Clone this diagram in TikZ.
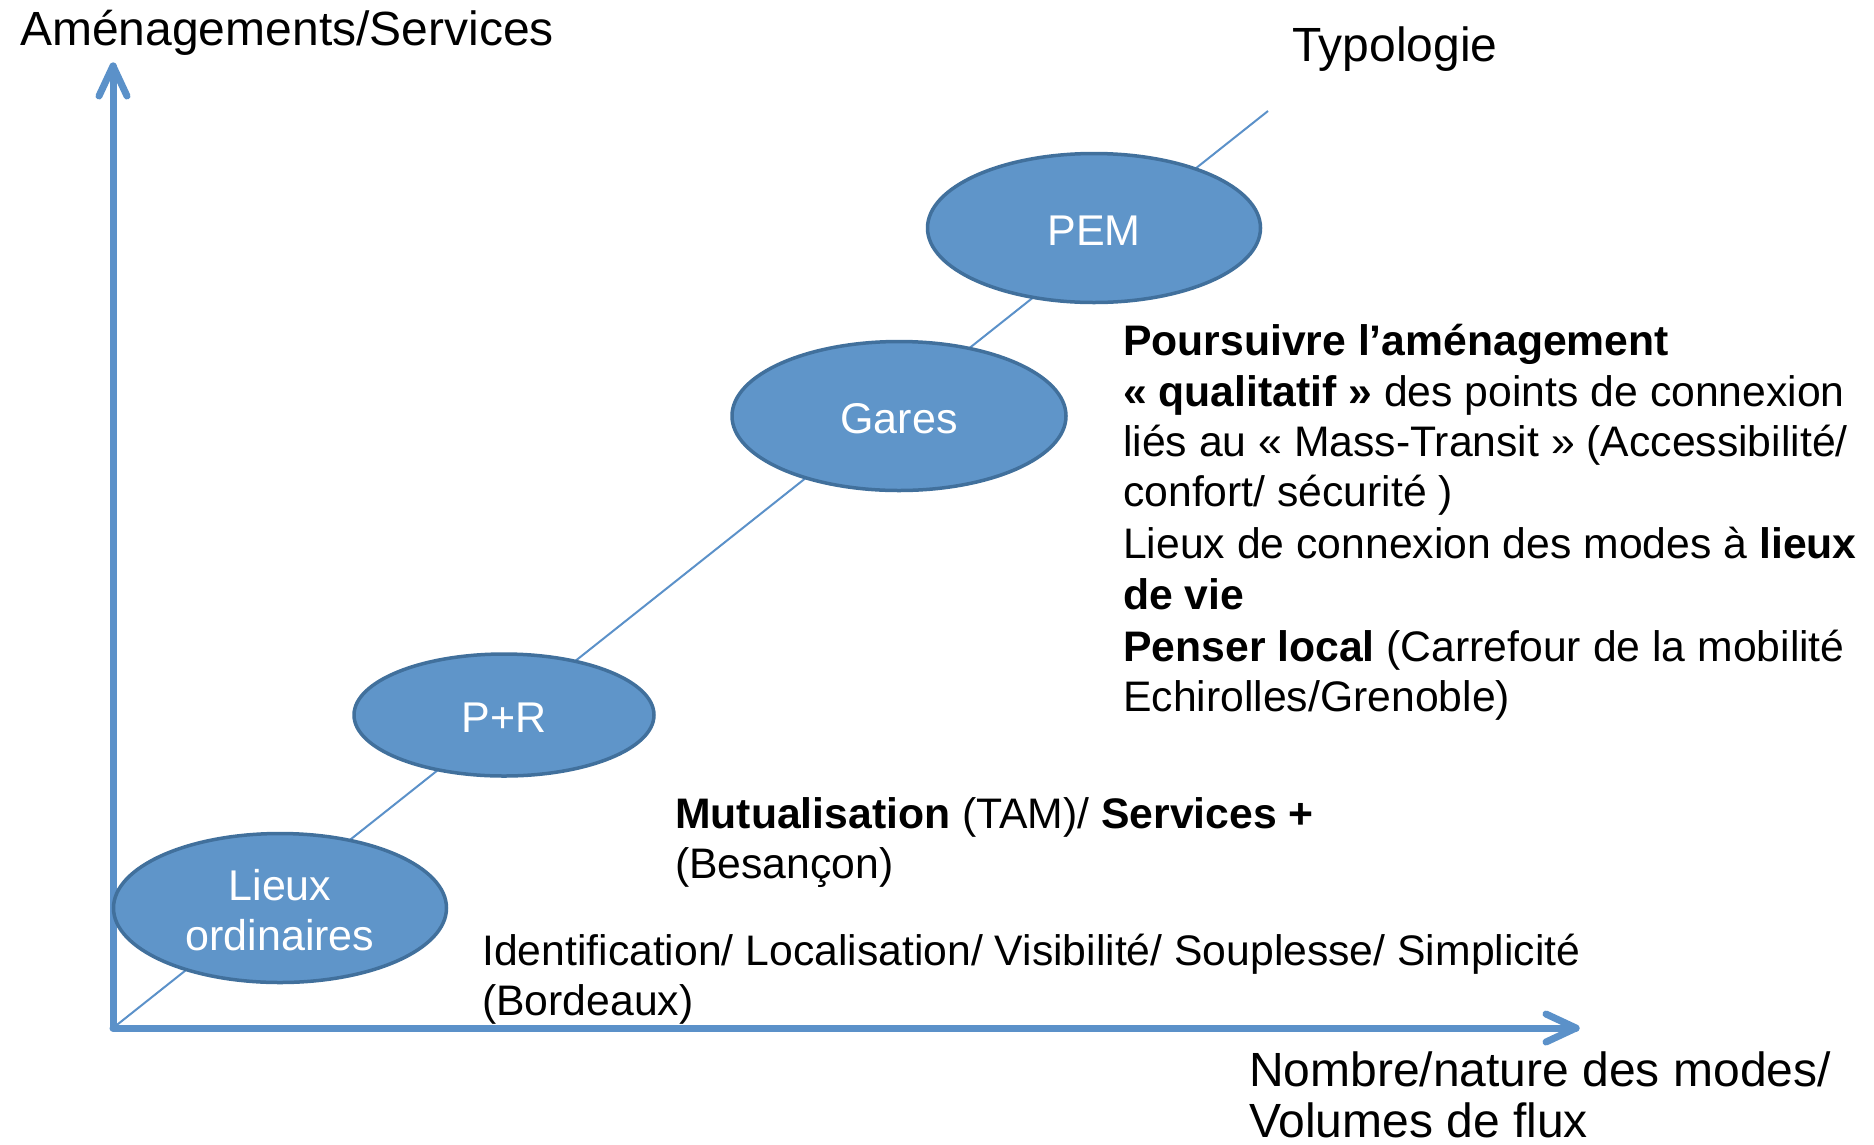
\documentclass[tikz,border=0pt]{standalone}
\usepackage{fontspec}
\setmainfont{Liberation Sans}
\usetikzlibrary{shapes.geometric,calc}
\definecolor{axisblue}{HTML}{5B91C9}
\definecolor{ellfill}{HTML}{5F95C9}
\definecolor{elldraw}{HTML}{41709C}
\newcommand{\lowered}[1]{\raisebox{-2.5pt}[\height][\depth]{#1}}
\tikzset{
  axisline/.style={draw=axisblue, line width=7pt, line cap=round, line join=round},
  diagline/.style={draw=axisblue, line width=2pt},
  bubble/.style={ellipse, fill=ellfill, draw=elldraw, line width=3.5pt, inner sep=0pt,
    text=white, align=center, font=\fontsize{43}{50}\selectfont},
  bigtxt/.style={anchor=base west, inner sep=0pt, font=\fontsize{48}{55}\selectfont},
  txt/.style={anchor=base west, inner sep=0pt, font=\fontsize{42.7}{50}\selectfont}
}
\begin{document}
\begin{tikzpicture}[x=1pt,y=-1pt]
\useasboundingbox (0,0) rectangle (1874,1144);
% axes
\coordinate (O) at (113,1028);
\coordinate (Ytip) at (113,66);
\coordinate (Xtip) at (1576,1028);
\coordinate (Dend) at (1268,111);
\draw[diagline] (O) -- (Dend);
\draw[axisline] (O) -- (Ytip);
\draw[axisline] ($(Ytip)+(-14,30)$) -- (Ytip) -- ($(Ytip)+(14,30)$);
\draw[axisline] (O) -- (Xtip);
\draw[axisline] ($(Xtip)+(-30,-14)$) -- (Xtip) -- ($(Xtip)+(-30,14)$);
% bubbles
\node[bubble, minimum width=333pt, minimum height=149pt] (pem) at (1094,228) {\lowered{PEM}};
\node[bubble, minimum width=334pt, minimum height=149pt] (gares) at (899,416) {\lowered{Gares}};
\node[bubble, minimum width=300pt, minimum height=122pt] (pr) at (504,715) {\lowered{P+R}};
\node[bubble, minimum width=333pt, minimum height=149pt] (lieux) at (280,908) {\lowered{Lieux}\\\lowered{ordinaires}};
% axis labels
\node[bigtxt] (ylab) at (20,45) {Aménagements/Services};
\node[bigtxt] (typo) at (1292,61) {Typologie};
\node[bigtxt] (xlab1) at (1249,1086) {Nombre/nature des modes/};
\node[bigtxt] (xlab2) at (1249,1137) {Volumes de flux};
% right block
\node[txt] (r1) at (1123,355) {\textbf{Poursuivre l’aménagement}};
\node[txt] (r2) at (1123,406) {\textbf{« qualitatif »} des points de connexion};
\node[txt] (r3) at (1123,456) {liés au « Mass-Transit » (Accessibilité/};
\node[txt] (r4) at (1123,506) {confort/ sécurité )};
\node[txt] (r5) at (1123,558) {Lieux de connexion des modes à \textbf{lieux}};
\node[txt] (r6) at (1123,609) {\textbf{de vie}};
\node[txt] (r7) at (1123,661) {\textbf{Penser local} (Carrefour de la mobilité};
\node[txt] (r8) at (1123,711) {Echirolles/Grenoble)};
% middle block
\node[txt] (m1) at (675,828) {\textbf{Mutualisation} (TAM)/ \textbf{Services +}};
\node[txt] (m2) at (675,878) {(Besançon)};
% bottom block
\node[txt] (b1) at (482,965) {Identification/ Localisation/ Visibilité/ Souplesse/ Simplicité};
\node[txt] (b2) at (482,1015) {(Bordeaux)};
\end{tikzpicture}
\end{document}
